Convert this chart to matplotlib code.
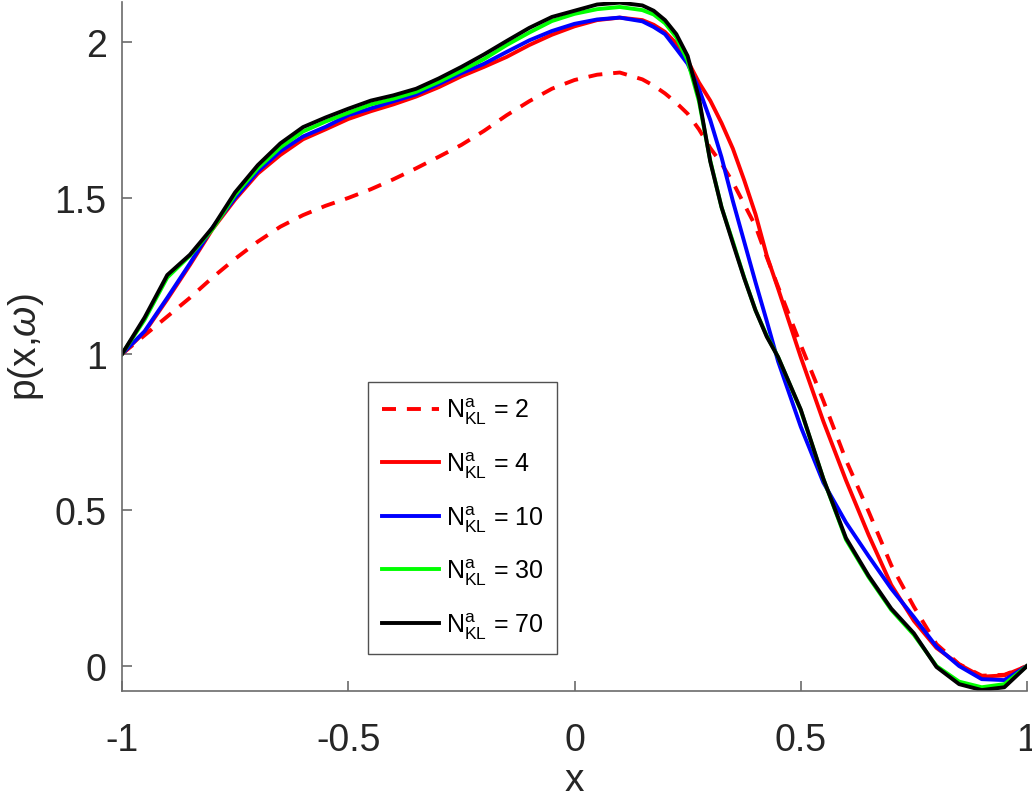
import matplotlib
matplotlib.use("Agg")
import matplotlib.pyplot as plt
import numpy as np

plt.rcParams['font.family'] = ['Liberation Sans', 'DejaVu Sans']
plt.rcParams['mathtext.fontset'] = 'custom'
plt.rcParams['mathtext.rm'] = 'Liberation Sans'
plt.rcParams['mathtext.it'] = 'Liberation Sans:italic'

# shared x grid
x = [-1.0, -0.95, -0.9, -0.85, -0.8, -0.75, -0.7, -0.65, -0.6, -0.55,
     -0.5, -0.45, -0.4, -0.35, -0.3, -0.25, -0.2, -0.15, -0.1, -0.05,
     0.0, 0.05, 0.1, 0.15, 0.175, 0.2, 0.225, 0.25, 0.275, 0.3,
     0.325, 0.35, 0.375, 0.4, 0.425, 0.45, 0.5, 0.55, 0.6, 0.65, 0.7, 0.75,
     0.8, 0.85, 0.9, 0.95, 1.0]

p_kl2 = [1.00, 1.06, 1.12, 1.18, 1.245, 1.305, 1.36, 1.408, 1.445, 1.475,
         1.50, 1.528, 1.56, 1.595, 1.632, 1.67, 1.715, 1.765, 1.81, 1.85,
         1.878, 1.895, 1.902, 1.88, 1.86, 1.835, 1.805, 1.77, 1.72, 1.66,
         1.61, 1.55, 1.48, 1.41, 1.31, 1.215, 1.029, 0.85, 0.66, 0.495, 0.323, 0.19,
         0.07, 0.006, -0.031, -0.028, 0.0]

p_kl4 = [1.00, 1.07, 1.175, 1.285, 1.40, 1.495, 1.578, 1.638, 1.688, 1.72,
         1.753, 1.778, 1.80, 1.825, 1.855, 1.89, 1.92, 1.952, 1.99, 2.023,
         2.05, 2.07, 2.078, 2.07, 2.055, 2.032, 1.995, 1.94, 1.87, 1.812,
         1.74, 1.658, 1.557, 1.448, 1.315, 1.209, 0.99, 0.784, 0.595, 0.42, 0.26, 0.145,
         0.058, 0.005, -0.034, -0.030, 0.0]

p_kl10 = [1.00, 1.073, 1.18, 1.29, 1.405, 1.50, 1.585, 1.65, 1.697, 1.728,
          1.765, 1.787, 1.81, 1.832, 1.865, 1.90, 1.93, 1.968, 2.005, 2.035,
          2.058, 2.072, 2.078, 2.066, 2.048, 2.025, 1.978, 1.93, 1.85, 1.75,
          1.63, 1.49, 1.36, 1.23, 1.105, 0.976, 0.767, 0.588, 0.46, 0.352, 0.248, 0.157,
          0.062, 0.0, -0.042, -0.045, 0.0]

p_kl30 = [1.00, 1.11, 1.245, 1.315, 1.40, 1.51, 1.595, 1.662, 1.713, 1.745,
          1.773, 1.80, 1.818, 1.84, 1.872, 1.908, 1.945, 1.99, 2.03, 2.067,
          2.09, 2.105, 2.112, 2.102, 2.088, 2.06, 2.015, 1.94, 1.81, 1.62,
          1.47, 1.36, 1.245, 1.14, 1.058, 0.99, 0.82, 0.60, 0.405, 0.285, 0.18, 0.10,
          0.0, -0.05, -0.068, -0.058, 0.0]

p_kl70 = [1.00, 1.117, 1.253, 1.318, 1.405, 1.518, 1.605, 1.675, 1.727, 1.758,
          1.786, 1.812, 1.829, 1.85, 1.883, 1.92, 1.96, 2.003, 2.045, 2.08,
          2.10, 2.12, 2.126, 2.117, 2.10, 2.07, 2.025, 1.955, 1.82, 1.617,
          1.47, 1.355, 1.243, 1.14, 1.055, 0.99, 0.822, 0.60, 0.41, 0.289, 0.184, 0.105,
          -0.003, -0.058, -0.077, -0.068, 0.0]

labels = [r'$\mathrm{N}^{\mathrm{a}}_{\mathrm{KL}}$ = 2',
          r'$\mathrm{N}^{\mathrm{a}}_{\mathrm{KL}}$ = 4',
          r'$\mathrm{N}^{\mathrm{a}}_{\mathrm{KL}}$ = 10',
          r'$\mathrm{N}^{\mathrm{a}}_{\mathrm{KL}}$ = 30',
          r'$\mathrm{N}^{\mathrm{a}}_{\mathrm{KL}}$ = 70']

fig = plt.figure(figsize=(10.32, 8.03), dpi=100)
ax = fig.add_axes([122/1032, 111/803, 905/1032, 689/803])

lw = 2.8
ax.plot(x, p_kl2, color='#ff0000', lw=lw, ls=(0, (3.6, 2.8)), label=labels[0])
ax.plot(x, p_kl4, color='#ff0000', lw=lw, label=labels[1])
ax.plot(x, p_kl10, color='#0000ff', lw=lw, label=labels[2])
ax.plot(x, p_kl30, color='#00ff00', lw=lw, label=labels[3])
ax.plot(x, p_kl70, color='#000000', lw=lw, label=labels[4])

ax.set_xlim(-1, 1)
ax.set_ylim(-0.08, 2.128)
ax.set_xticks([-1, -0.5, 0, 0.5, 1])
ax.set_xticklabels(['-1', '-0.5', '0', '0.5', '1'])
ax.set_yticks([0, 0.5, 1, 1.5, 2])
ax.set_yticklabels(['0', '0.5', '1', '1.5', '2'])

axcol = '#6b6b6b'
for s in ['top', 'right']:
    ax.spines[s].set_visible(False)
for s in ['left', 'bottom']:
    ax.spines[s].set_color(axcol)
    ax.spines[s].set_linewidth(1.2)
ax.tick_params(direction='in', length=7, width=1.2, color=axcol,
               labelsize=27, labelcolor='#262626')
ax.tick_params(axis='x', pad=22)
ax.tick_params(axis='y', pad=11)

ax.set_xlabel('x', fontsize=28, color='#262626', labelpad=3)
ax.set_ylabel(r'p(x,$\omega$)', fontsize=28, color='#262626', labelpad=6)

leg = ax.legend(loc='upper left', bbox_to_anchor=(0.272, 0.4485), fontsize=18,
                frameon=True, fancybox=False, edgecolor='#262626',
                handlelength=2.3, labelspacing=0.92, borderpad=0.55,
                handletextpad=0.25, borderaxespad=0)
leg.get_frame().set_linewidth(1.0)

fig.savefig('out.png', dpi=100)
